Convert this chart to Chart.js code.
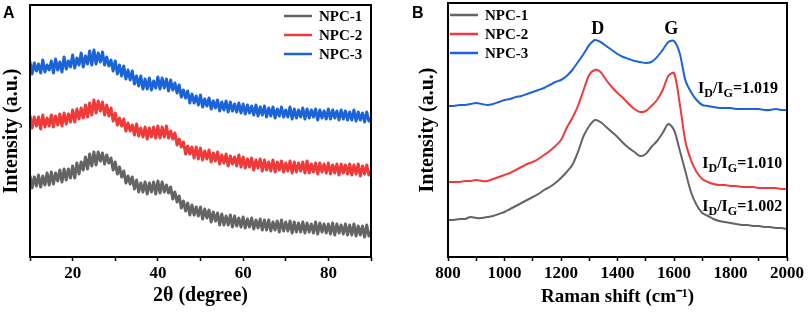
<!DOCTYPE html>
<html><head><meta charset="utf-8">
<script src="https://cdn.jsdelivr.net/npm/chart.js@4.4.1/dist/chart.umd.min.js"></script>
<style>
html,body{margin:0;padding:0;background:#fff;}
#wrap{position:relative;width:809px;height:312px;overflow:hidden;background:#fff;}
#cA{position:absolute;left:0;top:0;}
#cB{position:absolute;left:400px;top:0;}
.lbl{position:absolute;font-family:"Liberation Sans",Arial,sans-serif;font-weight:bold;font-size:16px;line-height:16px;color:#000;}
</style></head><body>
<div id="wrap">
<canvas id="cA" width="400" height="312"></canvas>
<canvas id="cB" width="409" height="312"></canvas>
<div class="lbl" style="left:3px;top:5px">A</div>
<div class="lbl" style="left:412px;top:5px">B</div>
</div>
<script>
// ---------- DATA ----------
const seriesNames = ['NPC-1', 'NPC-2', 'NPC-3'];
const seriesColors = ['#646464', '#ef3a3a', '#1b64d8'];

// Panel A: XRD, 2θ from 10 to 90 in steps of 0.5
const xrdStart = 10, xrdStep = 0.5;
const xrdNPC1 = [
 81,69,80,71,82,70,81,72,84,72,
 85,73,84,76,87,75,88,77,88,79,
 91,79,94,83,95,87,100,88,103,91,
 105,92,105,96,104,93,102,94,99,87,
 95,83,90,80,86,74,81,73,80,68,
 77,65,74,65,75,63,74,65,75,63,
 76,64,75,65,72,64,70,58,65,55,
 61,49,56,46,54,42,52,42,50,41,
 50,38,48,39,47,35,45,36,44,32,
 43,32,41,32,42,30,41,31,39,30,
 40,29,38,30,39,28,37,29,38,27,
 37,27,37,26,35,27,36,25,37,26,
 35,26,36,24,35,25,34,25,35,24,
 34,25,33,24,35,23,34,25,33,24,
 33,23,34,22,33,24,32,23,33,22,
 32,22,33,21,31,22,31,20,32,21,
 25];
const xrdNPC2 = [
 141,129,140,131,140,128,142,130,139,131,
 142,130,141,132,143,131,144,133,143,135,
 147,135,148,138,149,139,152,140,154,142,
 157,144,156,146,155,142,152,141,149,136,
 144,132,139,131,138,126,134,126,132,122,
 133,121,129,120,130,118,129,120,130,119,
 131,119,130,120,131,119,126,118,124,112,
 118,110,115,103,111,103,110,99,110,98,
 109,97,106,98,107,95,104,96,105,93,
 102,94,103,91,101,93,100,91,102,90,
 100,89,98,90,99,87,97,89,98,86,
 97,87,95,86,97,85,95,87,96,85,
 94,86,96,84,95,85,94,86,95,84,
 96,84,93,85,94,83,94,85,93,84,
 94,83,92,84,93,82,93,84,92,83,
 93,82,92,83,93,81,91,83,92,82,
 86];
const xrdNPC3 = [
 195,183,194,186,193,184,197,185,192,187,
 196,184,198,187,195,185,200,188,196,190,
 202,189,199,192,204,190,201,193,206,192,
 207,193,204,195,205,192,200,191,197,186,
 196,183,192,181,191,178,187,177,186,173,
 181,171,181,168,178,168,179,167,176,169,
 180,168,179,169,178,166,177,167,174,164,
 172,160,167,159,166,154,163,154,161,152,
 162,150,158,151,159,148,156,149,157,146,
 155,147,156,145,155,146,153,145,154,144,
 153,143,152,144,151,142,152,141,150,142,
 151,140,149,141,150,139,148,141,150,140,
 147,140,150,138,148,139,147,140,149,138,
 148,139,147,140,148,137,147,139,146,138,
 148,138,147,139,146,137,147,138,146,137,
 145,137,147,136,145,137,144,135,145,136,
 139];

// Panel B: Raman, 800 to 2000 cm-1 in steps of 20
const ramanStart = 800, ramanStep = 20;
const ramanNPC1 = [37,37,38,38,40,39,39,40,41,43, 45,48,51,54,57,60,63,67,70,74,
 79,85,92,105,121,131,137,135,130,125, 120,114,109,105,101,103,110,116,124,133,
 127,107,86,65,52,44,41,38,36,35, 34,33,32,32,31,31,30,30,29,29,28];
const ramanNPC2 = [75,75,75,76,76,77,76,76,78,80, 82,84,87,90,93,95,98,102,106,111,
 117,129,139,151,167,182,187,185,177,170, 164,159,153,148,145,146,151,157,167,181,
 184,154,116,97,85,78,75,73,72,72, 71,71,70,70,70,69,69,69,69,68,68];
const ramanNPC3 = [151,151,152,152,153,154,153,152,153,155, 157,158,160,161,163,165,167,169,172,175,
 177,181,187,195,203,212,217,215,211,207, 203,200,198,196,195,194,195,200,207,215,
 216,204,177,165,157,152,151,150,149,149, 149,148,148,148,148,148,147,147,148,147,147];

// Tick labels / annotations
const xrdTickLabels = [20, 40, 60, 80];
const ramanTickLabels = [800, 1000, 1200, 1400, 1600, 1800, 2000];
const bandLabels = ['D', 'G'];
const bandPositions = [1330, 1590];
const ratioValues = ['1.002', '1.010', '1.019'];
const ratioAnchorX = [1700, 1700, 1685];
const ratioAnchorY = [51, 94, 169];

// ---------- HELPERS ----------
const SERIF = '"Liberation Serif","Times New Roman",Times,serif';
function pts(arr, start, step) { return arr.map((v, i) => ({x: start + i * step, y: v})); }
function ds(name, color, arr, start, step, w, tension) {
  return {label: name, data: pts(arr, start, step), borderColor: color, backgroundColor: color,
    borderWidth: w, pointRadius: 0, tension: tension, fill: false,
    borderJoinStyle: 'round', borderCapStyle: 'round'};
}

function framePlugin(legendX, legendYs) {
  return {
    id: 'frameLegend',
    afterDatasetsDraw(chart) {
      const {ctx, chartArea: a} = chart;
      ctx.save();
      ctx.strokeStyle = '#000'; ctx.lineWidth = 2;
      ctx.strokeRect(a.left, a.top, a.right - a.left, a.bottom - a.top);
      ctx.font = 'bold 15px ' + SERIF;
      ctx.textBaseline = 'middle'; ctx.textAlign = 'left';
      chart.data.datasets.forEach((d, i) => {
        const y = legendYs[i];
        ctx.strokeStyle = d.borderColor; ctx.lineWidth = 2.5;
        ctx.beginPath(); ctx.moveTo(legendX, y); ctx.lineTo(legendX + 28, y); ctx.stroke();
        ctx.fillStyle = '#000';
        ctx.fillText(d.label, legendX + 35, y + 1);
      });
      ctx.restore();
    }
  };
}

const ramanAnno = {
  id: 'ramanAnno',
  afterDatasetsDraw(chart) {
    const {ctx} = chart;
    const xs = chart.scales.x, ys = chart.scales.y;
    ctx.save();
    ctx.fillStyle = '#000';
    ctx.font = 'bold 18px ' + SERIF;
    ctx.textAlign = 'center'; ctx.textBaseline = 'middle';
    bandLabels.forEach((t, i) => ctx.fillText(t, xs.getPixelForValue(bandPositions[i]), 29));
    ctx.textAlign = 'left'; ctx.textBaseline = 'alphabetic';
    ratioValues.forEach((v, i) => {
      let x = xs.getPixelForValue(ratioAnchorX[i]);
      const base = ys.getPixelForValue(ratioAnchorY[i]) + 5;
      const parts = [['I', 16, 0], ['D', 12, 4], ['/I', 16, 0], ['G', 12, 4], ['=' + v, 16, 0]];
      parts.forEach(([t, s, dy]) => {
        ctx.font = 'bold ' + s + 'px ' + SERIF;
        ctx.fillText(t, x, base + dy);
        x += ctx.measureText(t).width;
      });
    });
    ctx.restore();
  }
};

Chart.defaults.font.family = SERIF;
Chart.defaults.color = '#000';
Chart.defaults.animation = false;

// ---------- PANEL A ----------
new Chart(document.getElementById('cA'), {
  type: 'line',
  data: {datasets: [
    ds(seriesNames[0], seriesColors[0], xrdNPC1, xrdStart, xrdStep, 3, 0),
    ds(seriesNames[1], seriesColors[1], xrdNPC2, xrdStart, xrdStep, 3, 0),
    ds(seriesNames[2], seriesColors[2], xrdNPC3, xrdStart, xrdStep, 3, 0)
  ]},
  options: {
    responsive: false, animation: false,
    layout: {padding: {left: 0, right: 29, top: 5, bottom: 0}},
    plugins: {legend: {display: false}, tooltip: {enabled: false}},
    scales: {
      x: {type: 'linear', min: 10, max: 90,
        border: {display: false},
        grid: {display: true, drawOnChartArea: false, drawTicks: true, tickLength: 4, tickColor: '#000', tickWidth: 1.5},
        ticks: {stepSize: 10, autoSkip: false, maxRotation: 0, padding: 2,
          font: {size: 17, weight: 'bold', family: SERIF}, color: '#000',
          callback: v => xrdTickLabels.includes(v) ? String(v) : ''},
        title: {display: true, text: '2θ (degree)', font: {size: 20, weight: 'bold', family: SERIF}, color: '#000', padding: {top: 0, bottom: 4}},
        afterFit: s => { s.height = 55; }
      },
      y: {type: 'linear', min: 0, max: 252,
        border: {display: false},
        grid: {display: false},
        ticks: {display: false},
        title: {display: true, text: 'Intensity (a.u.)', font: {size: 20, weight: 'bold', family: SERIF}, color: '#000', padding: {top: 0, bottom: 0}},
        afterFit: s => { s.width = 30; }
      }
    }
  },
  plugins: [framePlugin(284, [16, 35, 54])]
});

// ---------- PANEL B ----------
new Chart(document.getElementById('cB'), {
  type: 'line',
  data: {datasets: [
    ds(seriesNames[0], seriesColors[0], ramanNPC1, ramanStart, ramanStep, 2, 0.3),
    ds(seriesNames[1], seriesColors[1], ramanNPC2, ramanStart, ramanStep, 2, 0.3),
    ds(seriesNames[2], seriesColors[2], ramanNPC3, ramanStart, ramanStep, 2, 0.3)
  ]},
  options: {
    responsive: false, animation: false,
    layout: {padding: {left: 0, right: 22, top: 3, bottom: 0}},
    plugins: {legend: {display: false}, tooltip: {enabled: false}},
    scales: {
      x: {type: 'linear', min: 800, max: 2000,
        border: {display: false},
        grid: {display: true, drawOnChartArea: false, drawTicks: true, tickLength: 4, tickColor: '#000', tickWidth: 1.5},
        ticks: {stepSize: 100, autoSkip: false, maxRotation: 0, padding: 2,
          font: {size: 17, weight: 'bold', family: SERIF}, color: '#000',
          callback: v => ramanTickLabels.includes(v) ? String(v) : ''},
        title: {display: true, text: 'Raman shift (cm⁻¹)', font: {size: 19, weight: 'bold', family: SERIF}, color: '#000', padding: {top: 0, bottom: 4}},
        afterFit: s => { s.height = 55; }
      },
      y: {type: 'linear', min: 0, max: 254,
        border: {display: false},
        grid: {display: false},
        ticks: {display: false},
        title: {display: true, text: 'Intensity (a.u.)', font: {size: 20, weight: 'bold', family: SERIF}, color: '#000', padding: {top: 16, bottom: 0}},
        afterFit: s => { s.width = 48; }
      }
    }
  },
  plugins: [framePlugin(50, [15, 34, 53]), ramanAnno]
});
</script>
</body></html>
